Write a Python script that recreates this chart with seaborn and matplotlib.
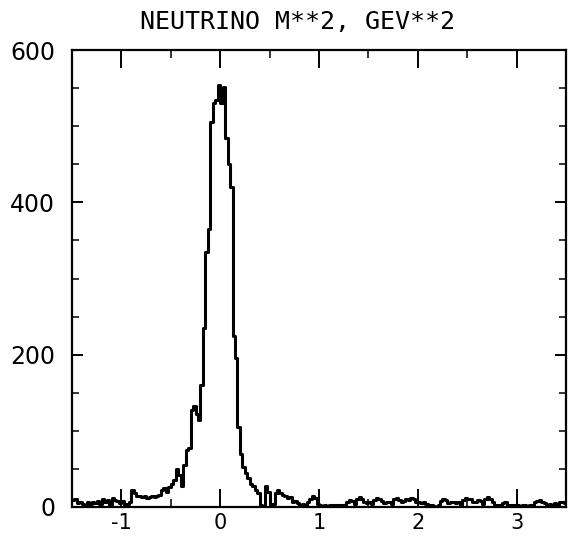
import numpy as np
import pandas as pd
import matplotlib
matplotlib.use("Agg")
import matplotlib.pyplot as plt
from matplotlib.ticker import MultipleLocator
import seaborn as sns

# Histogram: 200 bins of width 0.025 from -1.5 to 3.5 (NEUTRINO M**2, GEV**2)
x_min, x_max = -1.5, 3.5
counts_far_left = [9, 11, 5, 6, 4, 3, 6, 4, 7, 5, 8, 4, 10, 6, 9, 3, 12, 9, 8, 5]
counts_left_plateau = [8, 3, 4, 6, 22, 18, 14, 15, 13, 14, 12, 13, 14, 13, 15, 16]
counts_left_rise = [22, 25, 20, 26, 30, 35, 50, 42, 28, 55, 75, 78, 128, 132, 122, 114]
counts_peak = [160, 235, 335, 365, 505, 530, 535, 554, 530, 552, 485, 450, 420,
               225, 195, 105, 70, 52, 45, 38, 30, 27, 22, 18]
counts_right_fall = [2, 0, 28, 20, 3, 4, 18, 22, 19, 16, 14, 12, 13, 6, 8, 5, 3, 4,
                     3, 6, 11, 14, 12, 4, 2, 1]
counts_tail = [2, 1, 2, 3, 1, 2, 2, 3, 2,
               6, 9, 8, 4,
               10, 13, 11, 6,
               5, 6, 4,
               9, 12, 11, 8,
               5, 7, 6, 4,
               10, 12, 9,
               7, 8,
               11, 9, 12, 10, 6,
               7, 5, 6, 4,
               1, 2, 1, 0, 2,
               8, 11, 9,
               5, 6, 7, 5, 6, 3,
               9, 12, 10, 11, 7,
               6, 9, 8, 4,
               10, 13, 11, 6,
               2, 1, 2,
               5, 7, 3,
               2, 1, 2, 3, 1, 2, 2, 1, 2, 3,
               6, 8, 9, 7, 5, 3,
               4, 3, 5, 2,
               6, 7, 5]

counts = np.array(counts_far_left + counts_left_plateau + counts_left_rise +
                  counts_peak + counts_right_fall + counts_tail, dtype=float)
bin_width = (x_max - x_min) / len(counts)
centers = x_min + bin_width * (np.arange(len(counts)) + 0.5)
df = pd.DataFrame({"m2": centers, "n": counts})

title = "NEUTRINO M**2, GEV**2"
xticks = [-1, 0, 1, 2, 3]
yticks = [0, 200, 400, 600]

sns.set_style("white")
plt.rcParams["font.family"] = ["DejaVu Sans"]
plt.rcParams["text.color"] = "black"

fig = plt.figure(figsize=(5.68, 5.37), dpi=100)
ax = fig.add_axes([72 / 568, 1 - 507 / 537, (566 - 72) / 568, (507 - 50) / 537])

sns.histplot(data=df, x="m2", weights="n", binwidth=bin_width,
             binrange=(x_min, x_max), element="step",
             fill=False, color="black", linewidth=2.2, ax=ax, legend=False)

ax.set_xlim(x_min, x_max)
ax.set_ylim(0, 600)
ax.set_xticks(xticks)
ax.set_xticklabels([str(t) for t in xticks])
ax.set_yticks(yticks)
ax.set_yticklabels([str(t) for t in yticks])
ax.xaxis.set_minor_locator(MultipleLocator(0.5))
ax.yaxis.set_minor_locator(MultipleLocator(50))
ax.set_xlabel("")
ax.set_ylabel("")

for s in ax.spines.values():
    s.set_visible(True)
    s.set_linewidth(1.6)
    s.set_color("black")

ax.tick_params(axis="x", which="major", direction="in", length=13, width=1.4,
               top=True, bottom=True, labelsize=15, pad=4, colors="black")
ax.tick_params(axis="x", which="minor", direction="in", length=6, width=1.3,
               top=True, bottom=True)
ax.tick_params(axis="y", which="major", direction="in", length=8, width=1.4,
               left=True, right=True, labelsize=17, pad=12, colors="black")
ax.tick_params(axis="y", which="minor", direction="in", length=5, width=1.3,
               left=True, right=True)

fig.text(297 / 568, 1 - 22 / 537, title, family="DejaVu Sans Mono", fontsize=18,
         color="black", ha="center", va="center")

fig.savefig("out.png", dpi=100)
